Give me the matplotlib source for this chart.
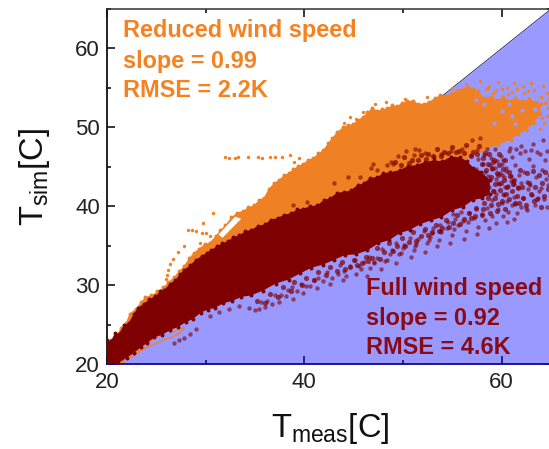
import numpy as np
import matplotlib
matplotlib.use("Agg")
import matplotlib.pyplot as plt

plt.rcParams['font.family'] = ['Liberation Sans', 'DejaVu Sans']
plt.rcParams['mathtext.fontset'] = 'custom'
plt.rcParams['mathtext.rm'] = 'Liberation Sans'
plt.rcParams['mathtext.default'] = 'rm'

# orange cloud outline (reduced wind speed), upper edge then lower edge
orange_x = [20.0, 20.4, 20.9, 21.4, 21.9, 22.3, 22.9, 23.4, 23.9, 24.5, 25.1, 25.7, 26.2, 26.8, 27.3, 27.8, 28.3, 28.8,
            29.3, 29.9, 30.4, 31.0, 31.5, 32.0, 32.6, 33.2, 33.8, 34.3, 34.9, 35.4, 35.9, 36.4, 36.9, 37.4, 37.9, 38.4,
            38.9, 39.4, 39.9, 40.4, 40.9, 41.4, 41.9, 42.4, 42.8, 43.3, 43.9, 44.4, 44.9, 45.4, 45.9, 46.4, 46.9, 47.4,
            47.9, 48.4, 48.9, 49.4, 49.9, 50.4, 51.0, 51.5, 52.1, 52.6, 53.2, 53.8, 54.4, 55.0, 55.6, 56.1, 56.6, 57.1,
            57.6, 58.2, 58.9, 59.5, 60.1, 60.8, 61.4, 62.1, 62.8, 63.5, 64.0,
            63.9, 63.3, 62.6, 61.7, 60.9, 59.6, 58.0, 55.0, 45.0, 35.0, 27.0, 23.0, 21.5, 20.0]
orange_y = [22.2, 23.0, 23.5, 24.6, 25.2, 26.4, 27.0, 27.8, 28.5, 28.7, 29.2, 29.7, 30.4, 31.0, 31.8, 32.4, 33.4, 34.1,
            34.6, 35.2, 35.4, 36.2, 37.0, 37.6, 38.6, 39.2, 39.4, 39.9, 40.1, 40.8, 41.1, 42.2, 42.9, 43.3, 43.9, 44.2,
            44.7, 45.1, 45.4, 45.9, 46.1, 46.7, 47.1, 48.0, 48.6, 49.4, 50.0, 50.3, 50.4, 50.9, 51.3, 51.9, 52.5, 52.1,
            52.3, 52.4, 52.8, 52.7, 53.1, 53.3, 53.4, 53.0, 53.0, 53.2, 53.7, 54.1, 54.0, 54.4, 54.7, 54.9, 55.1, 54.8,
            54.6, 53.7, 53.9, 53.5, 53.8, 53.4, 53.7, 53.3, 53.6, 53.2, 53.0,
            51.7, 50.6, 49.7, 49.2, 48.4, 47.8, 47.0, 45.0, 38.0, 32.0, 25.0, 21.6, 20.3, 19.9]

# thin orange strands along the lower edge of the cloud
strand_x = [20.6, 21.4, 22.0, 22.7, 23.2, 26.0, 26.7, 27.3, 27.8, 27.2, 26.4]
strand_y = [19.9, 20.2, 20.9, 21.0, 21.6, 23.2, 23.4, 23.9, 24.6, 24.4, 23.9]

# white gap between the orange strand and the cloud body
gap_x = [31.3, 33.0, 33.6, 31.7]
gap_y = [36.4, 38.7, 38.4, 36.0]

# solid dark red cloud outline (full wind speed), upper edge then lower edge
dark_x = [20.0, 20.4, 20.8, 21.2, 21.7, 22.2, 22.7, 23.1, 23.7, 24.3, 24.9, 25.4, 25.8, 26.4, 26.9, 27.4, 27.8, 28.4,
          29.0, 29.6, 30.1, 30.5, 31.1, 31.7, 32.3, 32.8, 33.4, 34.0, 34.6, 35.3, 36.0, 36.6, 37.3, 37.9, 38.6, 39.3,
          39.9, 40.6, 41.3, 42.0, 42.6, 43.3, 44.0, 44.7, 45.4, 46.0, 46.7, 47.4, 48.0, 48.7, 49.7, 50.5, 51.4, 52.2,
          53.1, 54.0, 54.9, 55.8, 56.5, 57.1, 57.9, 58.8,
          58.8, 58.0, 57.1, 56.1, 55.0, 53.9, 52.8, 51.7, 50.7, 49.7, 48.6, 47.5, 46.4, 45.2, 44.1, 43.0, 41.9, 40.7,
          39.6, 38.4, 37.1, 35.8, 34.6, 33.6, 32.7, 31.8, 30.9, 30.2, 29.5, 28.7, 28.0, 27.2, 26.4, 25.6, 24.8, 24.1,
          23.4, 22.7, 22.0, 21.1, 20.0]
dark_y = [23.0, 22.9, 23.9, 23.8, 24.9, 25.2, 26.3, 27.1, 27.6, 28.2, 28.6, 29.2, 29.4, 30.2, 30.6, 31.4, 31.9, 32.5,
          33.2, 33.7, 34.1, 34.4, 34.9, 35.3, 35.6, 36.1, 36.3, 36.8, 37.0, 37.5, 37.7, 38.3, 38.5, 38.9, 39.1, 39.6,
          39.7, 40.0, 40.1, 40.8, 41.0, 41.7, 41.8, 42.0, 42.7, 42.9, 43.6, 43.7, 44.2, 44.3, 44.6, 45.1, 45.2, 45.6,
          45.8, 45.7, 46.3, 46.2, 45.7, 44.9, 44.4, 43.3,
          41.6, 41.0, 40.8, 39.9, 39.5, 38.6, 38.2, 37.7, 37.0, 36.6, 35.7, 35.3, 34.4, 33.9, 33.8, 33.2, 32.6, 32.2,
          31.5, 30.7, 30.2, 29.3, 28.7, 28.5, 28.0, 27.7, 27.1, 26.9, 26.5, 25.7, 25.3, 24.7, 24.3, 23.7, 23.4, 22.7,
          22.1, 21.4, 20.8, 20.1, 20.0]

# loose orange points
stray_orange_x = [32.0, 32.4, 33.0, 33.3, 34.3, 35.3, 35.7, 36.5, 37.0, 37.7, 38.5, 39.5, 39.0, 40.0, 41.0, 42.0,
                  28.2, 28.6, 29.0, 29.7, 27.8, 27.2, 26.7, 26.4, 26.2, 26.1, 26.0, 29.4, 29.6, 30.0, 30.4, 31.0,
                  30.7, 44.0, 44.6, 45.2, 45.9, 47.2, 48.3, 50.2, 52.4, 55.0, 56.4, 57.8, 58.7, 59.6, 60.5, 61.3,
                  62.2, 63.0, 64.2, 64.6, 62.7, 61.0, 64.0, 58.4, 59.1, 60.0, 60.6, 61.6, 62.3, 63.3, 64.4, 64.7,
                  64.1, 64.6, 64.3, 58.6, 59.4, 64.8, 63.9]
stray_orange_y = [46.2, 46.1, 46.1, 46.2, 46.3, 46.2, 46.1, 46.2, 46.3, 46.2, 46.5, 46.1, 45.6, 45.3, 45.0, 44.6,
                  37.0, 37.0, 36.9, 37.9, 34.9, 34.2, 33.3, 32.7, 31.9, 31.3, 30.8, 35.3, 36.6, 36.6, 36.2, 36.1,
                  39.1, 50.6, 51.3, 51.0, 52.0, 53.0, 53.2, 53.6, 53.8, 55.0, 55.5, 55.9, 55.3, 55.7, 55.0, 55.6,
                  55.3, 55.6, 55.2, 54.4, 54.6, 54.5, 53.9, 54.8, 54.3, 54.9, 54.2, 54.8, 54.4, 54.7, 53.1, 52.5,
                  51.2, 51.5, 50.6, 55.0, 54.7, 53.6, 49.8]

# blue specks showing through the orange cloud
hole_x = [58.2, 60.0, 61.4, 62.8, 59.2, 63.4, 60.7, 62.1, 57.4, 61.0]
hole_y = [52.9, 52.1, 50.4, 49.9, 50.6, 52.3, 53.0, 52.2, 53.5, 51.5]

# loose dark red points, mostly the thin right part and the lower fringe
stray_dark_x = [51.2, 51.6, 51.1, 53.1, 54.9, 56.0, 57.0, 57.8, 57.5, 58.5, 59.3, 60.8, 62.0, 63.2, 64.2, 59.9,
                48.8, 49.5, 50.3, 52.2, 53.9, 47.0, 45.6, 46.8, 60.1, 61.0, 61.9, 62.8, 63.6, 64.4, 60.4, 61.4,
                62.3, 63.2, 64.1, 60.0, 60.9, 61.8, 62.6, 63.5, 64.5, 59.7, 60.6, 61.7, 62.7, 63.8, 64.7, 59.4,
                60.2, 61.2, 62.2, 63.1, 64.3, 59.0, 60.0, 61.0, 62.0, 63.4, 64.6, 58.5, 59.6, 60.6, 61.6, 62.6,
                58.0, 59.0, 60.1, 61.3, 57.2, 58.3, 59.4, 60.5, 56.6, 57.6, 58.7, 55.2, 56.4, 57.5, 53.9, 55.0,
                56.2, 52.7, 53.6, 54.8, 51.3, 52.4, 53.4, 50.0, 51.1, 52.2, 48.7, 49.6, 50.8, 47.1, 48.2, 49.3,
                45.5, 46.7, 47.8, 44.0, 45.2, 46.4, 42.8, 43.9, 41.4, 42.6, 40.2, 41.3, 38.8, 39.9, 37.6, 38.9,
                36.2, 37.4, 35.0, 36.0, 38.9, 40.3, 43.0, 44.4, 47.4, 48.4, 49.0, 26.8, 27.3, 27.8, 28.4, 29.0,
                56.9, 57.6, 58.2, 58.9, 59.5, 58.1, 58.8, 59.3, 60.0, 57.4, 58.3, 59.0, 59.8, 60.4, 57.8, 58.6,
                59.4, 60.2, 60.9, 57.3, 58.0, 58.7, 59.6, 60.3, 61.2, 56.8, 57.7, 58.5, 59.2, 60.1, 55.1, 55.9,
                56.7, 57.4, 54.6, 55.3, 56.1, 53.0, 53.8, 54.5, 55.6, 52.1, 52.9, 53.7, 50.7, 51.5, 52.6, 49.3,
                50.1, 51.2, 47.9, 48.9, 49.8, 46.6, 47.4, 48.4, 45.1, 46.0, 47.1, 43.6, 44.6, 45.7, 42.3, 43.4,
                44.2, 41.0, 41.9, 39.7, 40.6, 38.3, 39.3, 37.0, 38.1, 35.6, 36.7, 34.4, 35.4, 30.4, 31.4, 32.4,
                33.4, 60.7, 61.5, 62.4, 63.0, 63.9, 64.6, 61.1, 62.0, 62.9, 64.0, 60.5, 61.4, 63.7, 62.5, 64.8]
stray_dark_y = [47.3, 47.1, 46.5, 46.2, 47.0, 47.3, 48.4, 48.6, 47.1, 47.3, 47.3, 47.4, 47.6, 47.9, 48.4, 46.4,
                45.6, 46.4, 47.0, 46.8, 46.6, 45.3, 43.7, 44.8, 45.9, 46.2, 46.7, 46.0, 46.9, 45.8, 44.9, 45.2,
                44.4, 45.1, 44.6, 43.9, 43.8, 44.0, 43.1, 43.7, 43.5, 42.8, 42.6, 42.4, 42.2, 41.9, 42.7, 41.6,
                41.4, 41.2, 41.0, 41.4, 40.9, 40.8, 40.4, 40.1, 39.9, 40.2, 39.9, 39.8, 39.6, 39.3, 39.1, 39.5,
                39.0, 38.8, 38.7, 38.4, 38.5, 38.2, 37.9, 38.0, 38.0, 37.4, 37.2, 37.1, 36.9, 36.5, 36.7, 36.3,
                35.9, 36.1, 35.7, 35.4, 35.2, 35.3, 34.9, 34.7, 34.5, 34.2, 33.9, 33.9, 33.6, 32.9, 33.1, 32.8,
                32.4, 32.2, 32.0, 31.8, 31.4, 31.2, 30.9, 30.7, 30.9, 30.1, 29.9, 29.6, 29.8, 29.0, 28.8, 28.3,
                28.0, 27.8, 26.9, 27.2, 40.1, 40.5, 42.9, 43.7, 44.6, 45.2, 45.4, 22.7, 23.0, 23.3, 23.8, 24.4,
                46.5, 46.0, 46.5, 46.1, 45.7, 45.4, 45.2, 44.9, 45.3, 44.7, 44.4, 44.7, 44.2, 44.5, 43.6, 43.8,
                43.4, 43.7, 43.2, 42.8, 42.9, 42.5, 42.9, 42.4, 42.8, 41.7, 41.9, 41.6, 41.9, 41.5, 39.0, 39.3,
                39.1, 39.6, 38.0, 38.4, 38.1, 37.3, 37.6, 37.2, 37.6, 36.9, 36.6, 36.9, 36.0, 35.9, 35.7, 35.4,
                35.1, 35.0, 34.6, 34.5, 34.1, 33.6, 33.4, 33.2, 33.2, 32.9, 32.8, 32.5, 32.4, 32.1, 31.6, 31.4,
                31.1, 30.6, 30.5, 30.2, 29.9, 29.4, 29.2, 28.7, 28.6, 27.8, 27.6, 27.1, 27.0, 26.1, 26.6, 27.0,
                27.4, 47.0, 47.3, 47.0, 47.1, 46.6, 47.0, 43.2, 42.9, 42.7, 42.3, 40.7, 40.3, 41.0, 39.8, 44.0]

# extra dark red points packed close to the solid cloud
dense_dark_x = [49.2, 50.1, 50.9, 51.8, 52.5, 53.4, 54.2, 55.0, 55.7, 56.4, 57.1, 57.7, 58.3, 49.8, 50.6, 51.5, 52.3,
                53.0, 53.9, 54.6, 55.4, 56.2, 56.9, 57.5, 58.1, 58.7, 59.2, 59.7, 58.0, 58.6, 59.1, 59.7, 60.3, 58.4,
                59.0, 59.5, 60.1, 60.7, 58.9, 59.6, 60.2, 60.8, 61.3, 59.3, 59.9, 60.5, 61.1, 61.7, 59.1, 59.8, 60.4,
                61.0, 61.6, 58.6, 59.3, 60.0, 60.7, 61.4, 58.2, 58.9, 59.6, 60.3, 57.4, 58.1, 58.8, 59.5, 56.7, 57.3,
                58.0, 55.5, 56.2, 56.9, 54.4, 55.1, 55.8, 53.3, 54.0, 54.7, 52.2, 52.9, 53.6, 51.0, 51.8, 52.5, 49.9,
                50.6, 51.3, 48.6, 49.4, 50.2, 47.4, 48.1, 49.0, 46.2, 46.9, 47.7, 45.0, 45.8, 46.5, 43.8, 44.6, 45.3,
                42.6, 43.3, 44.1, 41.4, 42.2, 40.2, 41.0, 39.0, 39.8, 37.8, 38.6, 36.5, 37.3, 35.2, 36.0, 61.9, 62.6,
                63.2, 63.8, 64.4, 62.1, 62.8, 63.4, 64.1, 64.7, 62.2, 63.0, 63.6, 64.3, 61.8, 62.5, 63.3, 64.0]
dense_dark_y = [45.6, 46.2, 45.9, 46.5, 46.6, 47.2, 46.9, 47.5, 47.0, 47.7, 46.9, 47.6, 46.8, 45.2, 45.5, 45.9, 46.0,
                46.4, 46.4, 46.8, 46.9, 46.8, 46.4, 46.6, 46.1, 46.6, 45.9, 46.6, 45.4, 45.3, 45.6, 45.2, 45.8, 44.6,
                44.8, 44.2, 44.7, 44.4, 43.7, 43.9, 43.3, 43.8, 43.3, 42.8, 43.0, 42.5, 42.8, 42.3, 41.9, 42.1, 41.5,
                41.9, 41.3, 41.0, 41.1, 40.6, 40.9, 40.4, 40.4, 40.2, 40.3, 39.7, 39.8, 39.7, 39.2, 39.4, 39.2, 38.8,
                38.9, 38.9, 38.4, 38.5, 38.2, 37.9, 37.8, 37.6, 37.3, 37.4, 37.1, 36.7, 36.8, 36.7, 36.2, 36.3, 36.0,
                35.5, 35.6, 35.4, 35.0, 34.9, 34.7, 34.2, 34.3, 33.6, 33.5, 33.3, 33.2, 32.8, 33.0, 32.9, 32.3, 32.6,
                32.3, 31.8, 32.1, 31.6, 31.3, 30.9, 30.6, 30.4, 30.0, 29.7, 29.3, 28.9, 28.5, 28.0, 27.7, 44.6, 44.2,
                44.5, 43.9, 44.3, 42.4, 43.0, 42.5, 42.9, 42.2, 41.0, 41.5, 40.9, 41.3, 40.4, 40.1, 40.6, 39.9]

# 1:1 boundary of the blue area
diag_x = [20, 65]
diag_y = [20, 65]

major_ticks = [20, 40, 60]
minor_x = [30, 50]
y_major = [20, 30, 40, 50, 60]
y_minor = [25, 35, 45, 55, 65]

BLUE = '#9999FF'
NAVY = '#00007F'
ORANGE = '#F08024'
DARK = '#7F0000'

fig = plt.figure(figsize=(5.49, 4.49), dpi=100)
ax = fig.add_axes([107 / 549, (449 - 364) / 449, (551 - 107) / 549, (364 - 9) / 449])

ax.fill_between(diag_x, diag_y, [20, 20], color=BLUE, lw=0, zorder=1)
ax.plot(diag_x, diag_y, color='#333377', lw=0.7, zorder=1.5)

ax.fill(orange_x, orange_y, color=ORANGE, lw=0, zorder=2)
ax.scatter(orange_x, orange_y, s=8, color=ORANGE, lw=0, zorder=2)
ax.plot(strand_x, strand_y, color=ORANGE, lw=1.0, zorder=2)
ax.fill(gap_x, gap_y, color='white', lw=0, zorder=2.1)
ax.scatter(stray_orange_x, stray_orange_y, s=6, color=ORANGE, lw=0, zorder=2.2)
ax.scatter(hole_x, hole_y, s=9, color=BLUE, lw=0, zorder=2.3)
ax.scatter(stray_dark_x, stray_dark_y, s=10, color=DARK, alpha=0.6, lw=0, zorder=3.1)
ax.scatter(dense_dark_x, dense_dark_y, s=14, color=DARK, alpha=0.7, lw=0, zorder=3.2)
ax.fill(dark_x, dark_y, color=DARK, lw=0, zorder=4)
ax.scatter(dark_x, dark_y, s=8, color=DARK, lw=0, zorder=4)

ax.set_xlim(20, 65)
ax.set_ylim(20, 65)

ax.set_xticks(major_ticks)
ax.set_xticks(minor_x, minor=True)
ax.set_yticks(y_major)
ax.set_yticks(y_minor, minor=True)
ax.tick_params(axis='x', which='major', direction='in', length=6, width=1.1, color=NAVY, labelsize=16, pad=6, labelcolor='#222222')
ax.tick_params(axis='x', which='minor', direction='in', length=3, width=1.1, color=NAVY)
ax.tick_params(axis='y', which='major', direction='in', length=6, width=1.1, color='black', labelsize=16, pad=5, labelcolor='#222222')
ax.tick_params(axis='y', which='minor', direction='in', length=3, width=1.1, color='black')

# top and right ticks have their own colours
top = ax.secondary_xaxis('top')
top.set_xticks(major_ticks)
top.set_xticks(minor_x, minor=True)
top.tick_params(which='major', direction='in', length=6, width=1.1, color='black', labeltop=False)
top.tick_params(which='minor', direction='in', length=3, width=1.1, color='black')
right = ax.secondary_yaxis('right')
right.set_yticks(y_major)
right.set_yticks(y_minor, minor=True)
right.tick_params(which='major', direction='in', length=6, width=1.1, color=NAVY, labelright=False)
right.tick_params(which='minor', direction='in', length=3, width=1.1, color=NAVY)

ax.spines['left'].set_linewidth(1.3)
ax.spines['left'].set_color('#111111')
ax.spines['top'].set_linewidth(1.1)
ax.spines['top'].set_color('#333333')
ax.spines['bottom'].set_linewidth(1.2)
ax.spines['bottom'].set_color(NAVY)
ax.spines['right'].set_color(NAVY)
top.spines['top'].set_visible(False)
right.spines['right'].set_visible(False)

for y, s in zip([61.4, 57.5, 53.8], ['Reduced wind speed', 'slope = 0.99', 'RMSE = 2.2K']):
    ax.text(21.6, y, s, color='#F58220', fontsize=16.9, fontweight='bold', va='baseline', ha='left', zorder=6)
for y, s in zip([28.7, 24.9, 21.3], ['Full wind speed', 'slope = 0.92', 'RMSE = 4.6K']):
    ax.text(46.2, y, s, color='#8B0A14', fontsize=16.9, fontweight='bold', va='baseline', ha='left', zorder=6)

fig.text(330 / 549, (449 - 437) / 449, r'T$_{\mathrm{meas}}$[C]', fontsize=23.5, color='#111111', ha='center', va='baseline')
fig.text(34 / 549, (449 - 177) / 449, r'T$_{\mathrm{sim}}$[C]', fontsize=23.5, color='#111111', rotation=90, ha='center', va='center')

fig.savefig('out.png', dpi=100)
